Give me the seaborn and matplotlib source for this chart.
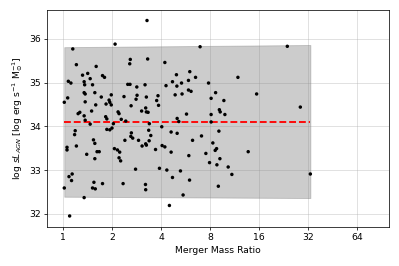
import numpy as np
import pandas as pd
import matplotlib
matplotlib.use('Agg')
import matplotlib.pyplot as plt
import seaborn as sns
from matplotlib.ticker import FixedLocator, FixedFormatter, NullLocator

# merger mass ratio and log specific AGN luminosity
mass_ratio = [
    1.15, 2.09, 1.21, 1.60, 1.32, 1.42, 1.75, 1.80, 1.08, 1.12, 1.35, 1.36, 1.47, 1.52,
    1.35, 1.37, 1.57, 1.07, 1.02, 1.37, 1.72, 1.98, 1.92, 1.94, 1.84, 1.59, 1.98, 1.27,
    1.24, 1.50, 1.35, 1.83, 1.86, 2.18, 2.21, 1.37, 1.47, 2.04, 2.00,
    3.28, 2.59, 2.57, 3.31, 4.22, 4.97, 4.70, 5.34, 5.00, 4.29, 2.50, 2.58, 2.84, 3.19,
    2.37, 2.85, 2.81, 3.25, 3.83, 3.76, 3.86, 2.62, 4.88, 3.22, 3.04, 3.25, 3.33, 2.28,
    2.43, 5.02, 5.14, 3.39, 4.04,
    6.94, 6.00, 6.51, 11.84, 5.89, 7.82, 5.89, 6.11, 5.38, 8.64, 8.11, 9.71, 9.11, 9.22,
    9.85, 5.73, 8.11, 8.11,
    23.78, 15.42, 28.58, 13.69, 32.92,
    1.86, 1.94, 1.19, 1.18, 1.54, 1.57, 1.21, 1.06, 1.06, 1.62, 1.67, 1.40, 1.57, 2.07,
    2.16, 2.23, 2.21, 2.26, 1.14, 1.09, 1.13, 1.55, 1.75, 1.02, 1.52, 1.58, 1.35, 1.10,
    4.61, 5.02, 2.63, 2.61, 2.68, 3.36, 3.46, 2.40, 2.91, 3.38, 3.22, 3.25, 3.06, 4.06,
    4.22, 3.70, 4.61, 2.79, 3.91, 4.34, 5.26, 4.70, 2.34, 3.21, 3.22, 4.50,
    9.05, 7.08, 6.24, 8.31, 8.76, 8.59, 7.53, 5.92, 9.18, 7.93, 8.80, 10.32, 10.87, 5.98,
    8.98, 5.46,
]
log_sl_agn = [
    35.77, 35.88, 35.41, 35.37, 35.17, 35.21, 35.16, 35.12, 35.03, 34.99, 35.02, 34.95, 35.09, 34.95,
    34.77, 34.74, 34.77, 34.65, 34.55, 34.56, 34.67, 34.72, 34.60, 34.55, 34.51, 34.49, 34.49, 34.32,
    34.29, 34.35, 34.24, 34.22, 34.17, 34.33, 34.29, 34.14, 34.05, 34.06, 33.96,
    36.42, 35.53, 35.43, 35.54, 35.46, 35.18, 35.02, 34.99, 34.92, 34.93, 34.96, 34.96, 34.90, 34.95,
    34.68, 34.71, 34.62, 34.67, 34.70, 34.59, 34.48, 34.47, 34.72, 34.42, 34.35, 34.33, 34.32, 34.16,
    34.12, 34.18, 34.11, 34.06, 33.99,
    35.82, 35.25, 35.12, 35.12, 35.05, 34.99, 34.83, 34.80, 34.74, 34.77, 34.64, 34.59, 34.38, 34.33,
    34.27, 34.28, 34.27, 34.10,
    35.83, 34.74, 34.44, 33.42, 32.91,
    33.93, 33.92, 33.90, 33.81, 33.69, 33.61, 33.55, 33.52, 33.46, 33.42, 33.42, 33.36, 33.26, 33.49,
    33.46, 33.41, 33.28, 33.21, 32.91, 32.85, 32.76, 32.72, 32.69, 32.59, 32.59, 32.57, 32.37, 31.95,
    33.87, 33.84, 33.85, 33.77, 33.73, 33.91, 33.79, 33.68, 33.68, 33.67, 33.60, 33.57, 33.55, 33.56,
    33.53, 33.47, 33.41, 33.02, 33.04, 33.00, 32.98, 32.83, 32.69, 32.67, 32.55, 32.19,
    33.89, 33.78, 33.68, 33.62, 33.49, 33.45, 33.38, 33.33, 33.26, 33.17, 33.12, 33.07, 32.90, 32.77,
    32.63, 32.43,
]

# mean level and spread band
mean_level = 34.1
band_x = [1.02, 32.92]
band_lo = [32.39, 32.36]
band_hi = [35.81, 35.86]

x_ticks = [1, 2, 4, 8, 16, 32, 64]

df = pd.DataFrame({'ratio': mass_ratio, 'lum': log_sl_agn})

fig = plt.figure(figsize=(6, 4), dpi=66.5)
ax = fig.add_axes([0.118, 0.147, 0.857, 0.817])

ax.fill_between(band_x, band_lo, band_hi, color='gray', alpha=0.4, zorder=1)
ax.plot(band_x, [mean_level, mean_level], 'r--', lw=2, zorder=3)
sns.scatterplot(data=df, x='ratio', y='lum', color='black', s=14,
                edgecolor='none', ax=ax, zorder=4)

ax.set_xscale('log', base=2)
ax.set_xlim(0.8, 100)
ax.set_ylim(31.7, 36.67)
ax.xaxis.set_major_locator(FixedLocator(x_ticks))
ax.xaxis.set_major_formatter(FixedFormatter([str(t) for t in x_ticks]))
ax.xaxis.set_minor_locator(NullLocator())
ax.set_yticks([32, 33, 34, 35, 36])
ax.grid(True, alpha=0.5, zorder=0)
ax.set_axisbelow(True)

ax.set_xlabel('Merger Mass Ratio')
ax.set_ylabel(r'log $sL_{AGN}$ [log erg s$^{-1}$ M$_{\odot}^{-1}$]')

fig.savefig('out.png', dpi=66.5)
